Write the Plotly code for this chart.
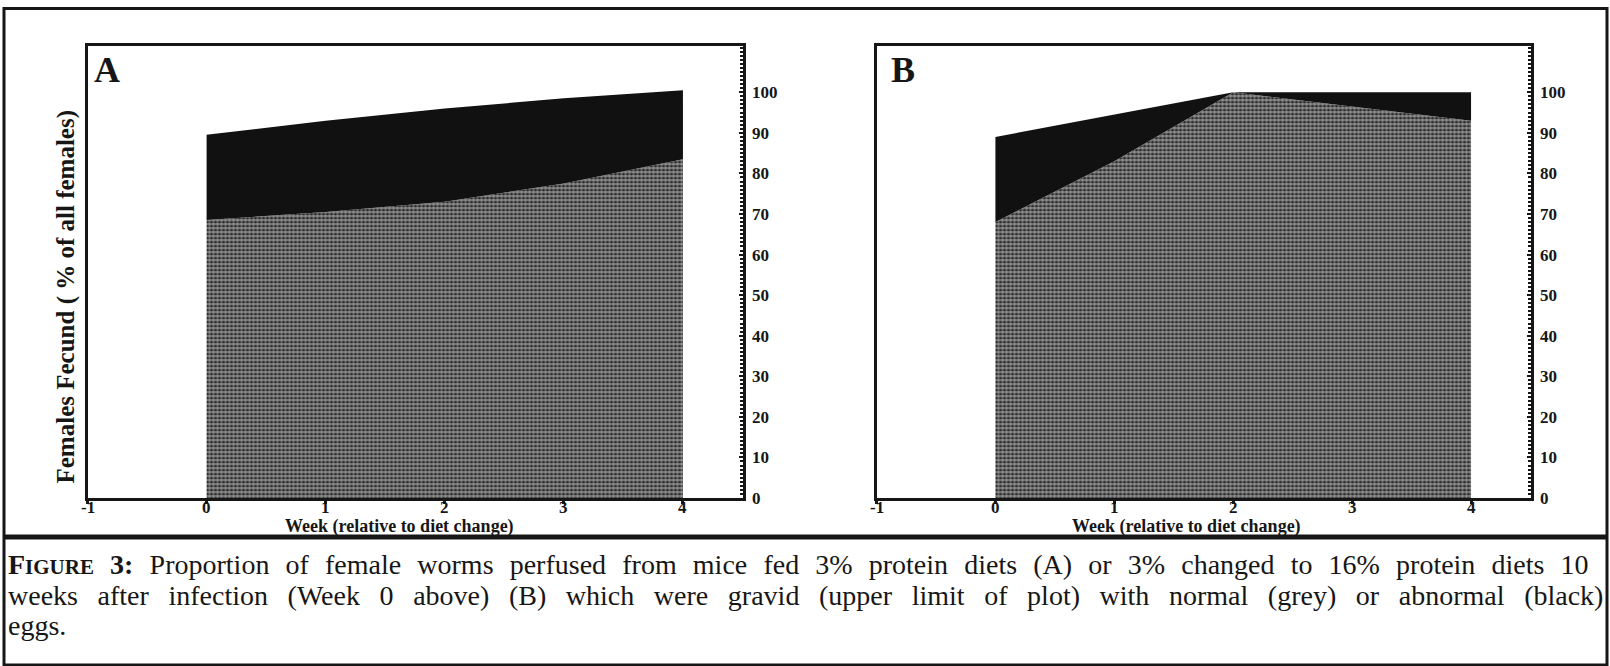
import plotly.graph_objects as go
from plotly.subplots import make_subplots

W, H = 1610, 666

weeks = [0, 1, 2, 3, 4]
# panel A: 3% protein throughout
a_normal = [68.5, 70.5, 73, 77.5, 83.5]
a_gravid = [89.5, 93, 96, 98.5, 100.5]
# panel B: 3% changed to 16% protein
b_normal = [68, 83, 100, 96.5, 93]
b_gravid = [89, 94.5, 100, 100, 100]

x_ticks = [-1, 0, 1, 2, 3, 4]
y_ticks = list(range(0, 101, 10))

FONT = "Liberation Serif"
INK = "#161616"


def px_x(v):
    return v / W


def px_y(v):
    return (H - v) / H


fig = make_subplots(rows=1, cols=2)

panels = [(a_normal, a_gravid, 1), (b_normal, b_gravid, 2)]
for normal, gravid, col in panels:
    fig.add_trace(
        go.Scatter(
            x=weeks, y=normal, mode="lines", line=dict(width=0, color=INK),
            fill="tozeroy", fillcolor="#2e2e2e",
            fillpattern=dict(shape=".", fgcolor="#ffffff", bgcolor="#1c1c1c",
                             size=4, solidity=0.68),
            hoverinfo="skip", showlegend=False,
        ),
        row=1, col=col,
    )
    fig.add_trace(
        go.Scatter(
            x=weeks, y=gravid, mode="lines", line=dict(width=0, color=INK),
            fill="tonexty", fillcolor="#111111",
            hoverinfo="skip", showlegend=False,
        ),
        row=1, col=col,
    )

y_dom = [px_y(498), px_y(46)]
x_doms = [[px_x(87.5), px_x(742.5)], [px_x(876.5), px_x(1530.5)]]

tick_font = dict(family=FONT, size=17, color=INK, weight="bold")
for i, dom in enumerate(x_doms, start=1):
    fig.update_xaxes(
        domain=dom, range=[-1, 4.5], tickvals=x_ticks, showticklabels=False,
        showline=True, mirror=True, linewidth=3, linecolor=INK,
        ticks="outside", ticklen=3, tickwidth=3, tickcolor=INK,
        showgrid=False, zeroline=False, automargin=False,
        row=1, col=i,
    )
    fig.update_yaxes(
        domain=y_dom, range=[0, 111.4], tickvals=y_ticks, side="right",
        showline=True, mirror=True, linewidth=3, linecolor=INK,
        ticks="inside", ticklen=4, tickwidth=2, tickcolor=INK,
        minor=dict(dtick=1, ticks="inside", ticklen=3, tickwidth=1.5, tickcolor=INK),
        showgrid=False, zeroline=False, tickfont=tick_font,
        ticklabelstandoff=3, automargin=False,
        row=1, col=i,
    )

annotations = []
# week tick labels, set tight under the axis like the original
for xref in ["x", "x2"]:
    for v in x_ticks:
        annotations.append(dict(
            text=str(v), xref=xref, yref="paper", x=v, y=px_y(507.5),
            xanchor="center", yanchor="middle", showarrow=False,
            font=tick_font,
        ))

# panel letters
for letter, xpx in [("A", 92), ("B", 889)]:
    annotations.append(dict(
        text=letter, xref="paper", yref="paper", x=px_x(xpx), y=px_y(69.5),
        xanchor="left", yanchor="middle", showarrow=False,
        font=dict(family=FONT, size=36, color=INK, weight="bold"),
    ))

# axis titles
for xpx in [399.5, 1186.5]:
    annotations.append(dict(
        text="Week (relative to diet change)", xref="paper", yref="paper",
        x=px_x(xpx), y=px_y(526), xanchor="center", yanchor="middle",
        showarrow=False, font=dict(family=FONT, size=18, color=INK, weight="bold"),
    ))
annotations.append(dict(
    text="Females Fecund ( % of all females)", xref="paper", yref="paper",
    x=px_x(65.5), y=px_y(297), xanchor="center", yanchor="middle", textangle=-90,
    showarrow=False, font=dict(family=FONT, size=25, color=INK, weight="bold"),
))

# caption, justified lines stretched with word spacing
caption = [
    ("<b>F<span style='font-size:21px'>IGURE</span> 3:</b> Proportion of female worms perfused "
     "from mice fed 3% protein diets (A) or 3% changed to 16% protein diets 10", 9.15),
    ("weeks after infection (Week 0 above) (B) which were gravid (upper limit of plot) "
     "with normal (grey) or abnormal (black)", 12.6),
    ("eggs.", 0),
]
for (line, spacing), ypx in zip(caption, [564, 595, 625]):
    annotations.append(dict(
        text=f"<span style='word-spacing:{spacing}px'>{line}</span>",
        xref="paper", yref="paper", x=px_x(5.5), y=px_y(ypx),
        xanchor="left", yanchor="middle", showarrow=False,
        font=dict(family=FONT, size=28, color=INK),
    ))

shapes = [
    dict(type="rect", xref="paper", yref="paper",
         x0=px_x(4), x1=px_x(1607), y0=px_y(665), y1=px_y(8.5),
         line=dict(color=INK, width=3)),
    dict(type="line", xref="paper", yref="paper",
         x0=px_x(4), x1=px_x(1607), y0=px_y(537), y1=px_y(537),
         line=dict(color=INK, width=5)),
]

fig.update_layout(
    width=W, height=H, margin=dict(l=0, r=0, t=0, b=0, autoexpand=False),
    paper_bgcolor="white", plot_bgcolor="white",
    annotations=annotations, shapes=shapes,
    font=dict(family=FONT, color=INK),
)

fig.write_html(
    "out.html",
    config={"displayModeBar": False},
    post_script="document.body.style.margin='0';document.body.style.overflow='hidden';",
)
